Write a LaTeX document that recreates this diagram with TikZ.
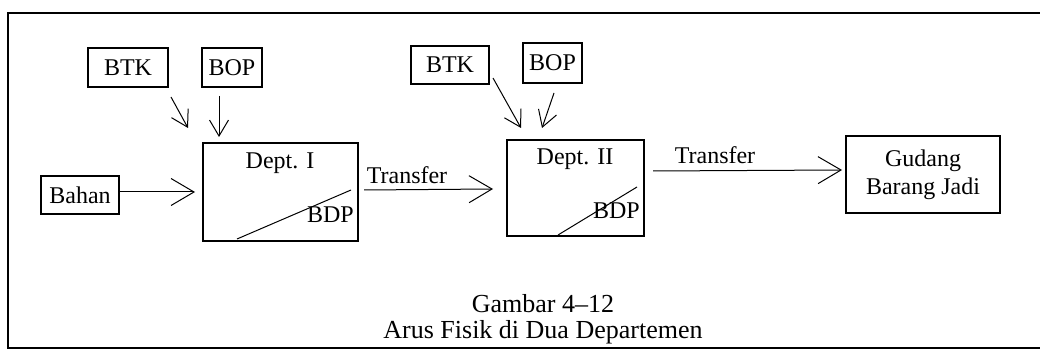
\documentclass[tikz,border=0pt]{standalone}
\usepackage{fontspec}
\setmainfont{Liberation Serif}
\usetikzlibrary{arrows.meta}
\begin{document}
\begin{tikzpicture}[x=1pt,y=-1pt,
  box/.style={draw,line width=1.1pt,inner sep=0pt,font=\fontsize{24}{28}\selectfont},
  lbl/.style={inner sep=0pt,font=\fontsize{24}{28}\selectfont},
  bigarrow/.style={line width=1pt,-{Straight Barb[length=23pt,width=27pt,line width=1pt]}},
  smallarrow/.style={line width=1pt,-{Straight Barb[length=16pt,width=19pt,line width=1pt]}}]
\useasboundingbox (0,0) rectangle (1040,352);
% frame
\draw[line width=1.3pt] (1042,13) -- (8,13) -- (8,348) -- (1042,348);
% boxes
\node[box,minimum width=80,minimum height=39] (btk1) at (128,67.5) {BTK};
\node[box,minimum width=60,minimum height=39] (bop1) at (232,67.5) {BOP};
\node[box,minimum width=78,minimum height=38] (bahan) at (80,195) {Bahan};
\node[box,minimum width=155,minimum height=98] (dept1) at (280.5,192) {};
\node[box,minimum width=78,minimum height=38] (btk2) at (450,65) {BTK};
\node[box,minimum width=59,minimum height=40] (bop2) at (552.5,63) {BOP};
\node[box,minimum width=137,minimum height=96] (dept2) at (575.5,188) {};
\node[box,minimum width=154,minimum height=77,align=center] (gudang) at (923,174.5) {Gudang\\Barang Jadi};
% dept contents
\node[lbl] (d1t) at (280,163) {Dept. I};
\coordinate (d1a) at (237,239);
\coordinate (d1b) at (351,190);
\draw[line width=1pt] (d1a) -- (d1b);
\node[lbl,anchor=east] (d1bdp) at (354,215) {BDP};
\node[lbl] (d2t) at (575,159) {Dept. II};
\coordinate (d2a) at (558,235);
\coordinate (d2b) at (637,187);
\draw[line width=1pt] (d2a) -- (d2b);
\node[lbl,anchor=east] (d2bdp) at (640,211) {BDP};
% arrows
\coordinate (a1s) at (171,97);  \coordinate (a1e) at (188,128);
\draw[smallarrow] (a1s) -- (a1e);
\coordinate (a2s) at (219,96);  \coordinate (a2e) at (219,137);
\draw[smallarrow] (a2s) -- (a2e);
\coordinate (a3s) at (120,192); \coordinate (a3e) at (195,192);
\draw[bigarrow] (a3s) -- (a3e);
\coordinate (a4s) at (364,190); \coordinate (a4e) at (493,189);
\draw[bigarrow] (a4s) -- (a4e);
\node[lbl] (tr1) at (407,175) {Transfer};
\coordinate (a5s) at (493,78);  \coordinate (a5e) at (521,128);
\draw[smallarrow] (a5s) -- (a5e);
\coordinate (a6s) at (554,93);  \coordinate (a6e) at (542,128);
\draw[smallarrow] (a6s) -- (a6e);
\coordinate (a7s) at (653,171); \coordinate (a7e) at (842,170);
\draw[bigarrow] (a7s) -- (a7e);
\node[lbl] (tr2) at (715,155) {Transfer};
% caption
\node[inner sep=0pt,align=center,font=\fontsize{26}{26}\selectfont] (cap) at (543,319) {Gambar 4--12\\Arus Fisik di Dua Departemen};
\end{tikzpicture}
\end{document}
